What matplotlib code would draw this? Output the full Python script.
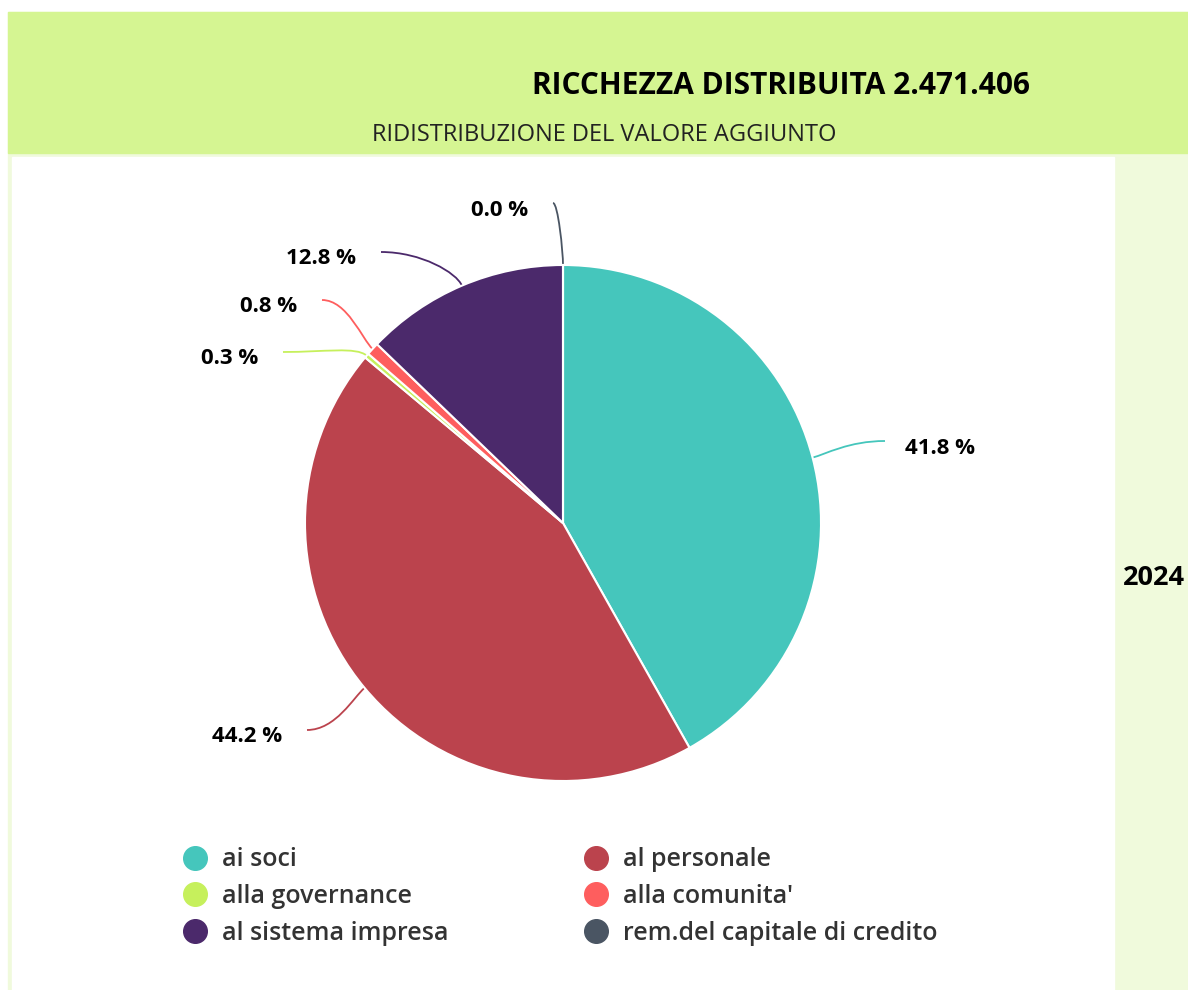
import numpy as np
import matplotlib.pyplot as plt
from matplotlib.patches import Rectangle
from matplotlib.path import Path
from matplotlib.patches import PathPatch
from matplotlib.lines import Line2D

# data
labels = ['ai soci', 'al personale', 'alla governance', "alla comunita'",
          'al sistema impresa', 'rem.del capitale di credito']
values = [41.8, 44.2, 0.3, 0.8, 12.8, 0.0]
colors = ['#45c6bc', '#bb434d', '#c6f05c', '#fe5e5e', '#4b296b', '#4a5563']
title = 'RICCHEZZA DISTRIBUITA 2.471.406'
subtitle = 'RIDISTRIBUZIONE DEL VALORE AGGIUNTO'
year = '2024'

# layout (pixel coords, y measured from bottom)
W, H = 1188, 990
cx, cy, r = 563, H - 523, 258
# where each label's connector ends (px from top-left)
label_ends = [(885, 441), (307, 730), (283, 352), (322, 300), (381, 252), (553, 203)]

plt.rcParams['font.family'] = ['Open Sans', 'DejaVu Sans']

fig = plt.figure(figsize=(W / 100, H / 100), dpi=100)
ax = fig.add_axes([0, 0, 1, 1])

# backgrounds
ax.add_patch(Rectangle((8, 0), W - 8, H - 12, color='#f0fadc', zorder=0))
ax.add_patch(Rectangle((8, H - 153), W - 8, 141, color='#d5f592', zorder=0))
ax.add_patch(Rectangle((12, 0), 1102, H - 157, color='white', zorder=0))

wedges, _ = ax.pie(values, colors=colors, startangle=90, counterclock=False,
                   center=(cx, cy), radius=r, normalize=True,
                   wedgeprops=dict(edgecolor='white', linewidth=1.5))
for w in wedges:
    w.set_zorder(2)

# connectors + labels
for w, v, col, (lx, ly) in zip(wedges, values, colors, label_ends):
    mid = np.deg2rad((w.theta1 + w.theta2) / 2)
    ex, ey = cx + r * np.cos(mid), cy + r * np.sin(mid)
    ly = H - ly
    side = 1 if lx > cx else -1
    p = [(lx, ly), (lx + 0.5 * (ex - lx), ly),
         (ex + 14 * np.cos(mid), ey + 14 * np.sin(mid)), (ex, ey)]
    path = Path(p, [Path.MOVETO, Path.CURVE4, Path.CURVE4, Path.CURVE4])
    ax.add_patch(PathPatch(path, fc='none', ec=col, lw=1.3, zorder=1))
    ha = 'left' if side > 0 else 'right'
    ax.text(lx + side * (20 if side > 0 else 25), ly - 7, f'{v:.1f} %', ha=ha,
            va='center', fontsize=16, fontweight='bold', color='black', zorder=3)

# titles
ax.text(781, H - 86, title, ha='center', va='center', fontsize=21.5,
        fontweight='bold', color='black')
ax.text(604, H - 135, subtitle, ha='center', va='center', fontsize=17,
        color='#222222')
ax.text(1123, H - 578, year, ha='left', va='center', fontsize=19.5,
        fontweight='bold', color='black')

# legend, row-wise order in two columns
order = [0, 2, 4, 1, 3, 5]
handles = [Line2D([], [], marker='o', ls='', markersize=17, markerfacecolor=colors[i],
                  markeredgecolor=colors[i]) for i in order]
leg = ax.legend(handles, [labels[i] for i in order], ncol=2, frameon=False,
                loc='upper left', bbox_to_anchor=(170 / W, 1 - 835 / H),
                fontsize=18, labelcolor='#333333', handletextpad=0.6,
                columnspacing=5.36, labelspacing=0.46, handlelength=1.0,
                borderpad=0)
for t in leg.get_texts():
    t.set_fontweight('semibold')

ax.set_xlim(0, W)
ax.set_ylim(0, H)
ax.set_aspect('auto')
ax.set_axis_off()

fig.savefig('out.png', dpi=100, facecolor='white')
